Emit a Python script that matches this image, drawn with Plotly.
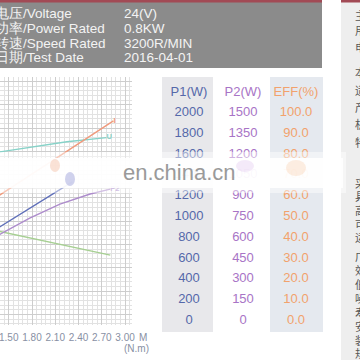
import plotly.graph_objects as go

W = H = 360
FONT = "Liberation Sans"

# ---------------- data ----------------
info_labels = ["电压/Voltage", "功率/Power Rated", "转速/Speed Rated", "日期/Test Date"]
info_values = ["24(V)", "0.8KW", "3200R/MIN", "2016-04-01"]

x_ticks = [1.50, 1.80, 2.10, 2.40, 2.70, 3.00]
x_tick_text = ["1.50", "1.80", "2.10", "2.40", "2.70", "3.00"]

# performance curves (torque N.m vs. relative chart units)
i_x = [1.35, 1.80, 2.10, 2.40, 2.85]
i_y = [55.0, 64.8, 71.3, 77.8, 87.6]
u_x = [1.35, 1.80, 2.25, 2.76]
u_y = [74.1, 76.5, 78.6, 80.4]
p1_x = [1.35, 1.80, 2.10, 2.32]
p1_y = [41.4, 50.7, 56.9, 61.4]
p2_x = [1.35, 1.39, 1.77, 2.16, 2.55, 2.81]
p2_y = [38.0, 39.0, 45.9, 51.9, 56.2, 58.3]
eff_x = [1.35, 2.10, 2.81]
eff_y = [40.4, 35.0, 30.0]

# table
table_headers = ["P1(W)", "P2(W)", "EFF(%)"]
p1_col = [2000, 1800, 1600, 1400, 1200, 1000, 800, 600, 400, 200, 0]
p2_col = [1500, 1350, 1200, 1050, 900, 750, 600, 450, 300, 150, 0]
eff_col = [100.0, 90.0, 80.0, 70.0, 60.0, 50.0, 40.0, 30.0, 20.0, 10.0, 0.0]

side_chars = ["主", "用", "电", "本", "适", "产", "机", "特", "采", "具", "高",
              "可", "运", "广", "效", "低", "噪", "寿", "安", "装", "规"]

# ---------------- styles ----------------
C_I = "#f09a7c"
C_U = "#86d2c8"
C_P1 = "#5f6fb9"
C_P2 = "#ad8ccc"
C_EFF = "#a6cf92"
T_P1 = "#5568aa"
T_P2 = "#a874c6"
T_EFF = "#f2a26c"
AX_TXT = "#8890a4"


def px(x):
    return x / W


def py(y):
    return 1 - y / H


fig = go.Figure()


def curve(xs, ys, color, label):
    txt = [""] * (len(xs) - 1) + [label]
    fig.add_trace(go.Scatter(
        x=xs, y=ys, mode="lines+text", text=txt, textposition="middle right",
        textfont=dict(size=7.5, color=color, family=FONT, weight="bold"),
        line=dict(color=color, width=1.4), hoverinfo="skip", showlegend=False,
        cliponaxis=False))


curve(eff_x, eff_y, C_EFF, "")
curve(u_x, u_y, C_U, "U")
curve(p1_x, p1_y, C_P1, "")
curve(p2_x, p2_y, C_P2, "P2")
curve(i_x, i_y, C_I, "I")

# table text through an overlay pixel-like axis
col_x = [189, 243, 296]
row_y = [112.7 + 20.8 * i for i in range(len(p1_col))]
cols = [
    ([str(v) for v in p1_col], T_P1),
    ([str(v) for v in p2_col], T_P2),
    ([f"{v:.1f}" for v in eff_col], T_EFF),
]
for (vals, color), cx, head in zip(cols, col_x, table_headers):
    fig.add_trace(go.Scatter(
        x=[cx] * (len(vals) + 1), y=[92.5] + row_y, mode="text",
        text=[head] + vals, textposition="middle center",
        textfont=dict(size=13, color=color, family=FONT),
        xaxis="x2", yaxis="y2", hoverinfo="skip", showlegend=False,
        cliponaxis=False))

shapes = [
    # header box
    dict(type="rect", xref="paper", yref="paper", x0=px(0), x1=px(322), y0=py(68), y1=py(0),
         fillcolor="#8b8b8b", line=dict(width=0), layer="below"),
    dict(type="rect", xref="paper", yref="paper", x0=px(0), x1=px(322), y0=py(2.5), y1=py(0),
         fillcolor="#a24a55", line=dict(width=0), layer="below"),
    # right panel
    dict(type="rect", xref="paper", yref="paper", x0=px(341), x1=px(360), y0=py(360), y1=py(0),
         fillcolor="#eeeeee", line=dict(width=0), layer="below"),
    dict(type="rect", xref="paper", yref="paper", x0=px(341), x1=px(360), y0=py(2.5), y1=py(0),
         fillcolor="#a24a55", line=dict(width=0), layer="below"),
    # table column backgrounds
    dict(type="rect", xref="paper", yref="paper", x0=px(162), x1=px(213), y0=py(332), y1=py(77),
         fillcolor="#e8e8eb", line=dict(width=0), layer="below"),
    dict(type="rect", xref="paper", yref="paper", x0=px(270), x1=px(323), y0=py(332), y1=py(77),
         fillcolor="#e5e9ef", line=dict(width=0), layer="below"),
    # watermark band
    dict(type="rect", xref="paper", yref="paper", x0=px(0), x1=px(346), y0=py(193), y1=py(152),
         fillcolor="rgba(255,255,255,0.45)", line=dict(width=0), layer="above"),
    dict(type="rect", xref="paper", yref="paper", x0=px(0), x1=px(343), y0=py(188), y1=py(158),
         fillcolor="rgba(255,255,255,0.9)", line=dict(width=0), layer="above"),
    # smudges
    dict(type="circle", xref="paper", yref="paper", x0=px(50), x1=px(60), y0=py(172), y1=py(159),
         fillcolor="rgba(244,190,165,0.45)", line=dict(width=0), layer="above"),
    dict(type="circle", xref="paper", yref="paper", x0=px(65), x1=px(75), y0=py(186), y1=py(172),
         fillcolor="rgba(150,155,215,0.45)", line=dict(width=0), layer="above"),
    dict(type="circle", xref="paper", yref="paper", x0=px(236), x1=px(254), y0=py(172), y1=py(160),
         fillcolor="rgba(210,170,230,0.25)", line=dict(width=0), layer="above"),
    dict(type="circle", xref="paper", yref="paper", x0=px(286), x1=px(306), y0=py(176), y1=py(160),
         fillcolor="rgba(248,200,160,0.3)", line=dict(width=0), layer="above"),
]

annotations = []
line_y = [14, 28.5, 43, 57.5]
for lab, val, yy in zip(info_labels, info_values, line_y):
    annotations.append(dict(x=px(-7), y=py(yy), xref="paper", yref="paper", text=lab,
                            showarrow=False, xanchor="left", yanchor="middle",
                            font=dict(size=13.5, color="#f3f3f3", family=FONT)))
    annotations.append(dict(x=px(122), y=py(yy), xref="paper", yref="paper", text=val,
                            showarrow=False, xanchor="left", yanchor="middle",
                            font=dict(size=13.5, color="#f3f3f3", family=FONT)))

annotations.append(dict(x=px(136.5), y=py(337), xref="paper", yref="paper", text="M",
                        showarrow=False, xanchor="left", yanchor="middle",
                        font=dict(size=10, color=AX_TXT, family=FONT)))
annotations.append(dict(x=px(136), y=py(348), xref="paper", yref="paper", text="(N.m)",
                        showarrow=False, xanchor="center", yanchor="middle",
                        font=dict(size=10, color=AX_TXT, family=FONT)))
annotations.append(dict(x=px(121), y=py(172), xref="paper", yref="paper", text="en.china.cn",
                        showarrow=False, xanchor="left", yanchor="middle",
                        font=dict(size=22, color="#9a9a9a", family=FONT)))

side_y = [15, 30, 47, 72, 90, 107, 124, 142, 183, 196, 210, 224, 237, 256, 270,
          284, 298, 312, 326, 340, 353]
for ch, yy in zip(side_chars, side_y):
    annotations.append(dict(x=px(353), y=py(yy), xref="paper", yref="paper", text=ch,
                            showarrow=False, xanchor="left", yanchor="middle",
                            font=dict(size=11, color="#555555", family="Noto Sans CJK SC")))

fig.update_layout(
    width=W, height=H, margin=dict(l=0, r=0, t=0, b=0, pad=0),
    paper_bgcolor="white", plot_bgcolor="rgba(0,0,0,0)",
    showlegend=False, shapes=shapes, annotations=annotations,
    xaxis=dict(domain=[0, px(132)], range=[1.387, 3.090], tickmode="array",
               tickvals=x_ticks, ticktext=x_tick_text, showgrid=True,
               gridcolor="#cdcdcd", gridwidth=1,
               minor=dict(tickmode="linear", tick0=1.5, dtick=0.06, showgrid=True,
                          gridcolor="#e2e2e2", gridwidth=1),
               zeroline=False, showline=False, ticks="", automargin=False,
               ticklabeloverflow="allow", ticklabelstandoff=5,
               tickfont=dict(size=10, color=AX_TXT, family=FONT), fixedrange=True),
    yaxis=dict(domain=[py(325), py(77)], range=[0, 106.4], tickmode="linear",
               tick0=4.5, dtick=10, showgrid=True, gridcolor="#cdcdcd",
               minor=dict(tickmode="linear", tick0=0.5, dtick=2, showgrid=True,
                          gridcolor="#e2e2e2", gridwidth=1),
               showticklabels=False, zeroline=False, showline=False, ticks="",
               automargin=False, fixedrange=True),
    xaxis2=dict(domain=[0, 1], range=[0, 360], visible=False, anchor="y2",
                fixedrange=True),
    yaxis2=dict(domain=[0, 1], range=[360, 0], visible=False, anchor="x2",
                fixedrange=True),
)

fig.write_html("out.html")
